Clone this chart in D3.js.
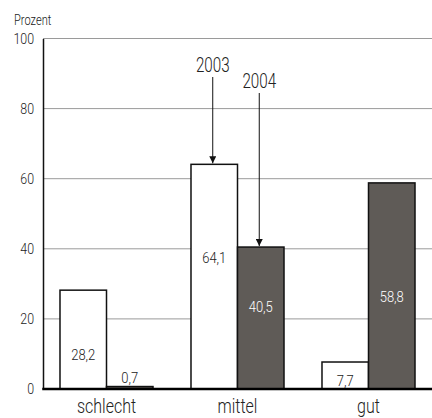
<!DOCTYPE html>
<html>
<head>
<meta charset="utf-8">
<script src="https://cdn.jsdelivr.net/npm/d3@7/dist/d3.min.js"></script>
<style>
  html, body { margin: 0; padding: 0; background: #fff; }
  svg { display: block; }
  text { font-family: Roboto, "Liberation Sans", sans-serif; font-weight: 300; fill: #222; }
</style>
</head>
<body>
<svg id="chart" width="432" height="418"></svg>
<script>
// Categories and series
const categories = ["schlecht", "mittel", "gut"];
const years = ["2003", "2004"];
const values2003 = [28.2, 64.1, 7.7];
const values2004 = [0.7, 40.5, 58.8];
const yTicks = [0, 20, 40, 60, 80, 100];
const valueLabels2003 = ["28,2", "64,1", "7,7"];
const valueLabels2004 = ["0,7", "40,5", "58,8"];

const plotLeft = 43, plotRight = 432, plotTop = 38.5, plotBottom = 389;
const NARROW = 0.8; // horizontal squeeze giving a condensed type look

const svg = d3.select("#chart");

// Squeeze text horizontally about its anchor point
function condense(sel, k = NARROW) {
  sel.attr("transform", function () {
    const x = +this.getAttribute("x") || 0;
    return `translate(${x},0) scale(${k},1) translate(${-x},0)`;
  });
}

const y = d3.scaleLinear().domain([0, 100]).range([plotBottom, plotTop]);
const x0 = d3.scaleBand().domain(categories).range([41, 434])
  .paddingInner(0.29).paddingOuter(0.145);
const x1 = d3.scaleBand().domain(years).range([0, x0.bandwidth()]);

const fills = { "2003": "#ffffff", "2004": "#5f5b57" };

// Horizontal grid lines
svg.append("g")
  .selectAll("line")
  .data(yTicks.filter(d => d > 0))
  .join("line")
  .attr("x1", plotLeft).attr("x2", plotRight)
  .attr("y1", d => y(d)).attr("y2", d => y(d))
  .attr("stroke", "#9a9a9a").attr("stroke-width", 1);

// Y axis
const yAxis = d3.axisLeft(y).tickValues(yTicks).tickSize(0).tickPadding(9);
const gy = svg.append("g").attr("transform", `translate(${plotLeft},0)`).call(yAxis);
gy.select(".domain").attr("stroke", "#111").attr("stroke-width", 1.5);
gy.selectAll("text")
  .attr("font-size", 15.5).attr("fill", "#222")
  .attr("font-family", "Roboto, sans-serif").attr("font-weight", 300)
  .call(condense);

svg.append("text").attr("x", 14).attr("y", 25.5).attr("font-size", 15).text("Prozent")
  .call(condense, 0.74);

// Bars
const rows = categories.map((c, i) => ({
  cat: c,
  bars: [
    { year: "2003", v: values2003[i], label: valueLabels2003[i] },
    { year: "2004", v: values2004[i], label: valueLabels2004[i] }
  ]
}));

const groups = svg.append("g").selectAll("g")
  .data(rows).join("g")
  .attr("transform", d => `translate(${x0(d.cat)},0)`);

groups.selectAll("rect")
  .data(d => d.bars)
  .join("rect")
  .attr("x", d => x1(d.year))
  .attr("width", x1.bandwidth())
  .attr("y", d => y(d.v))
  .attr("height", d => y(0) - y(d.v))
  .attr("fill", d => fills[d.year])
  .attr("stroke", "#111").attr("stroke-width", 1.5);

// Value labels: inside the bar, or just above it when the bar is too thin
const labelLevel = { "28,2": 9.7, "64,1": 37.5, "40,5": 23.4, "58,8": 26.5, "7,7": 2.4 };
groups.selectAll("text.val")
  .data(d => d.bars)
  .join("text")
  .attr("class", "val")
  .attr("x", d => x1(d.year) + x1.bandwidth() / 2)
  .attr("y", d => labelLevel[d.label] !== undefined ? y(labelLevel[d.label]) : y(d.v) - 4)
  .attr("dy", d => labelLevel[d.label] !== undefined ? "0.35em" : 0)
  .attr("text-anchor", "middle")
  .attr("font-size", 15.5)
  .style("fill", d => d.year === "2004" && labelLevel[d.label] !== undefined ? "#ffffff" : "#222")
  .text(d => d.label)
  .call(condense, 0.84);

// Baseline
svg.append("line")
  .attr("x1", plotLeft - 0.75).attr("x2", plotRight)
  .attr("y1", y(0)).attr("y2", y(0))
  .attr("stroke", "#000").attr("stroke-width", 2.5);

// Category labels
svg.append("g").selectAll("text")
  .data(categories).join("text")
  .attr("x", d => x0(d) + x0.bandwidth() / 2)
  .attr("y", 413)
  .attr("text-anchor", "middle")
  .attr("font-size", 20)
  .text(d => d)
  .call(condense, 0.8);

// Year callouts pointing at the "mittel" bars
const defs = svg.append("defs");
defs.append("marker")
  .attr("id", "head").attr("viewBox", "0 0 10 10")
  .attr("refX", 10).attr("refY", 5)
  .attr("markerWidth", 8).attr("markerHeight", 7)
  .attr("markerUnits", "userSpaceOnUse")
  .attr("orient", "auto")
  .append("path").attr("d", "M0,0 L10,5 L0,10 Z").attr("fill", "#111");

const calloutCat = "mittel";
const callouts = [
  { year: "2003", v: values2003[1], textY: 72, lineTop: 77 },
  { year: "2004", v: values2004[1], textY: 88, lineTop: 93 }
];
callouts.forEach(c => {
  const cx = x0(calloutCat) + x1(c.year) + x1.bandwidth() / 2 - 1.5;
  svg.append("line")
    .attr("x1", cx).attr("x2", cx)
    .attr("y1", c.lineTop).attr("y2", y(c.v) - 1)
    .attr("stroke", "#111").attr("stroke-width", 1)
    .attr("marker-end", "url(#head)");
  svg.append("text")
    .attr("x", cx).attr("y", c.textY)
    .attr("text-anchor", "middle")
    .attr("font-size", 19.5)
    .text(c.year)
    .call(condense, 0.78);
});
</script>
</body>
</html>
